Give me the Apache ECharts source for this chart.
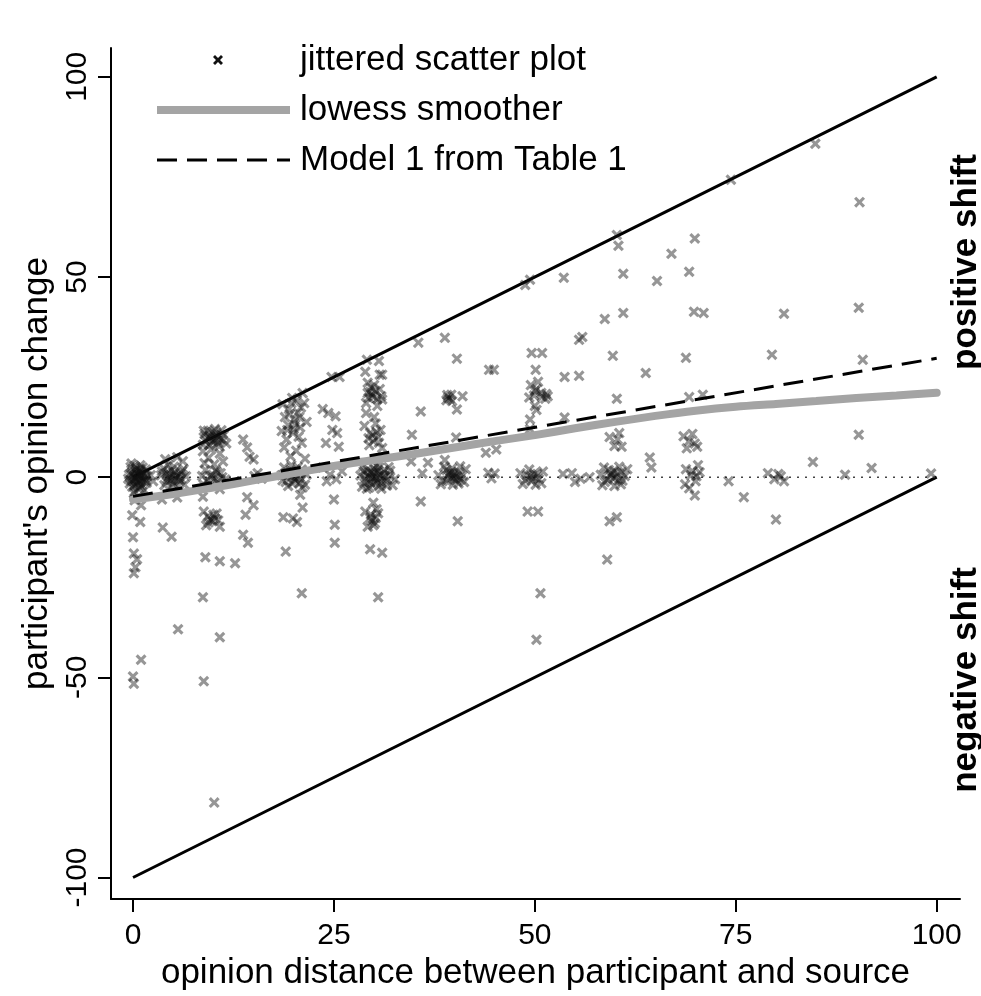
<!DOCTYPE html>
<html>
<head>
<meta charset="utf-8">
<script src="https://cdn.jsdelivr.net/npm/echarts@6/dist/echarts.min.js"></script>
<style>html,body{margin:0;padding:0;background:#fff;}#chart{width:981px;height:996px;}</style>
</head>
<body>
<div id="chart"></div>
<script>
var xTicks = [0, 25, 50, 75, 100];
var yTicks = [-100, -50, 0, 50, 100];

var upperBound = [[0, 0], [100, 100]];
var lowerBound = [[0, -100], [100, 0]];
var zeroLine = [[0, 0], [100, 0]];

var lowessPoints = [[0,-5.6],[5,-4.2],[10,-2.6],[15,-0.8],[20,1],[25,2.8],[30,4.3],[35,5.8],[40,7.4],[45,9],[50,10.5],[55,12.2],[60,13.8],[65,15.3],[70,16.6],[75,17.6],[80,18.3],[85,19],[90,19.8],[95,20.4],[100,21.1]];

var modelPoints = [[0, -4.8], [100, 29.7]];

var scatterPoints = [
[0.1,0.2],[0.3,-0.5],[-0.2,1.1],[0.6,0.4],[0.9,-1.2],[1.2,0.8],[-0.4,-1.6],[0.4,2.1],[1.5,-0.3],[0.8,1.5],[-0.1,-2.4],[1.1,-2.0],[0.2,2.8],[1.6,1.9],[-0.5,0.6],[0.7,-2.9],[1.3,-0.9],[0.0,-1.0],[0.5,0.9],[1.8,0.2],[-0.3,2.5],[0.9,3.0],[1.4,-3.3],[0.2,-3.6],[1.0,0.0],[-0.6,-0.4],[0.6,-1.7],[1.7,-1.4],[0.3,1.6],[1.2,2.4],[0.1,-4.0],[-0.2,3.4],
[0.4,-0.2],[0.8,0.6],[1.1,1.3],[-0.1,0.5],[0.5,-1.3],[1.4,0.5],[0.2,-2.0],[0.9,2.0],[1.6,-0.8],[-0.3,-0.9],[0.7,-0.6],[1.0,-2.6],
[-0.1,-9.5],[0.9,-11.2],[0.0,-15.0],[0.1,-19.1],[0.5,-20.5],[0.3,-22.5],[0.1,-24.0],[0.2,-5.8],[1.0,-7.0],[0.0,-49.8],[0.1,-51.6],[1.0,-45.6],
[3.5,0.5],[4.2,-1.2],[4.8,1.8],[5.3,-0.4],[5.9,0.9],[6.4,-1.9],[3.8,2.2],[4.5,0.1],[5.1,2.6],[5.6,-2.3],[6.1,1.5],[3.9,-2.0],[4.7,-0.8],[5.4,0.3],[6.6,0.2],[4.1,1.0],[5.0,-1.6],[5.8,-0.9],[6.3,2.0],[4.4,3.0],
[4.6,0.6],[5.2,1.2],[5.7,0.1],[4.3,-0.4],[6.0,-0.5],[5.0,0.4],[4.9,-2.2],[3.6,1.4],
[5.5,5.0],[6.2,4.0],[4.0,4.5],[3.6,-5.6],[5.5,-5.1],[3.7,-12.6],[4.8,-14.9],[5.6,-38.0],[2.2,0.5],[2.5,-1.0],
[8.7,8.1],[9.1,9.5],[9.6,10.2],[10.0,8.8],[10.4,11.0],[10.9,9.6],[11.3,10.5],[9.3,11.6],[10.2,12.0],[11.6,8.4],[8.9,10.8],[10.7,7.7],[9.8,9.1],[11.0,11.7],[9.5,8.0],[10.5,9.9],
[9.4,9.9],[10.1,10.6],[10.6,8.5],[9.9,11.3],[11.2,9.2],[9.0,9.0],[10.3,9.4],[8.8,11.6],
[8.7,6.5],[9.4,4.8],[10.1,3.2],[10.8,5.9],[9.0,1.8],[10.5,1.2],[11.2,3.9],[9.7,6.9],[8.9,3.5],
[8.6,0.3],[9.2,-0.8],[9.9,0.6],[10.6,-1.5],[11.1,0.0],[9.5,-2.1],[10.3,1.7],[11.5,-0.6],[8.8,-1.9],[10.0,-0.3],[9.6,0.2],[10.4,-0.9],[10.9,1.0],
[8.7,-4.9],[10.8,-3.0],[8.8,-8.6],[9.3,-9.8],[9.9,-11.0],[10.4,-9.1],[10.8,-12.4],[9.1,-12.0],[10.2,-10.3],[9.6,-10.6],[10.0,-9.4],[9.4,-11.3],[10.6,-10.8],
[9.0,-20.0],[10.8,-21.0],[12.7,-21.5],[8.7,-30.0],[10.8,-40.0],[8.8,-51.0],[10.1,-81.3],
[13.7,9.4],[14.5,5.1],[14.2,7.4],[15.0,4.4],[15.1,0.3],[16.0,-0.4],[15.5,1.0],[14.2,-5.0],[15.0,-7.0],[14.0,-9.4],[13.7,-14.4],[14.3,-16.4],
[19.8,19.8],[21.1,21.0],[18.6,18.2],[19.4,17.0],[20.5,16.1],[21.3,18.5],[18.9,15.0],[20.1,14.2],[19.3,13.0],[20.8,12.4],[21.6,13.8],[18.5,11.5],[19.9,11.0],[20.6,10.1],[19.1,9.4],[21.0,8.6],[18.8,7.4],[20.3,6.6],[19.6,5.2],[21.4,4.6],[20.0,12.0],[19.5,15.8],[20.9,17.4],
[19.7,18.5],[20.4,19.2],[20.2,13.2],[19.2,11.8],[20.7,15.0],
[18.5,0.5],[19.0,-1.2],[19.6,1.8],[20.2,-0.4],[20.8,0.9],[21.4,-1.9],[18.8,2.4],[19.9,0.1],[20.5,2.5],[21.1,-2.6],[19.3,-2.2],[20.1,-1.0],[21.6,0.6],[18.6,-0.8],[20.7,-1.6],[19.7,3.0],
[19.4,0.6],[20.4,0.3],[19.8,-1.5],[20.9,-0.4],[19.2,1.2],[21.0,1.9],
[20.8,-4.4],[21.1,-7.6],[18.7,-10.0],[19.9,-10.3],[20.4,-11.2],[19.0,-18.6],[21.0,-29.0],
[24.7,25.0],[25.7,25.0],[24.3,16.0],[25.4,11.0],[24.8,11.8],[23.6,17.0],[25.2,15.2],[24.0,8.5],[25.6,7.6],[23.6,2.4],[24.5,0.6],[25.3,-0.5],[26.0,1.5],[24.1,-1.0],[25.0,-5.6],[25.1,-11.9],[25.1,-16.4],
[28.9,26.3],[30.7,25.6],[29.2,23.6],[29.1,29.3],[30.6,29.0],[29.7,20.6],[30.2,21.5],[29.3,19.8],[30.9,20.2],[29.0,18.5],[30.4,17.8],[29.6,22.4],[31.0,25.6],[31.0,19.4],[29.0,16.0],[30.0,15.0],[29.5,11.0],[30.5,10.0],[29.9,9.0],[30.8,11.8],[28.8,12.8],[30.2,13.4],[29.4,8.0],[31.0,7.3],
[29.9,20.0],[30.4,19.5],[29.5,21.3],[30.0,23.0],[30.7,22.0],[29.2,21.0],[29.8,10.5],[30.3,11.3],[29.3,9.7],[30.6,8.6],
[28.3,0.4],[28.8,-1.5],[29.2,1.9],[29.7,-0.3],[30.1,1.1],[30.6,-2.2],[31.0,0.6],[31.5,-1.0],[32.0,1.6],[32.6,-0.5],[28.6,2.6],[29.4,-2.6],[30.3,2.9],[30.9,-2.9],[31.8,2.5],[29.9,0.0],[30.4,-1.2],[29.0,0.8],[31.3,1.8],[32.3,-2.0],[28.5,-2.4],[30.0,2.2],[31.1,-0.2],[29.6,1.3],
[29.3,0.2],[29.8,1.0],[30.2,-0.6],[30.7,0.5],[30.5,1.6],[29.5,-1.3],[30.9,-1.5],[31.4,0.2],[28.9,-0.5],[29.8,-2.0],[30.2,0.0],[31.6,-2.1],[28.7,1.5],[30.6,2.4],[29.1,-2.9],[31.9,0.4],
[29.9,-6.4],[28.9,-8.6],[29.5,-10.2],[30.1,-11.5],[30.5,-9.0],[29.2,-12.4],[30.3,-8.0],[29.7,-10.9],[29.6,-9.4],[30.2,-10.2],[29.9,-12.0],[29.5,-18.0],[31.0,-18.9],[30.5,-30.0],
[35.5,33.6],[35.8,16.4],[34.7,10.6],[34.6,3.9],[36.7,3.6],[36.0,0.9],[35.8,-6.1],
[38.8,34.8],[40.3,29.6],[39.2,19.9],[39.6,20.6],[39.0,19.2],[41.0,20.2],[40.3,16.9],[40.2,9.9],[38.8,4.3],[39.4,19.6],[39.1,20.5],[39.7,19.0],
[38.0,0.5],[38.5,-1.0],[39.0,1.8],[39.5,-0.2],[40.0,1.0],[40.5,-1.6],[41.0,0.4],[41.4,2.0],[38.7,2.6],[39.8,-1.9],[40.7,2.7],[39.3,0.9],[40.2,-0.8],[38.3,-1.8],[41.2,-1.2],[39.9,0.3],
[39.2,0.4],[39.6,1.3],[40.3,0.2],[40.8,-0.6],[39.0,-0.9],[40.0,-0.3],[39.7,2.2],[40.5,1.2],
[40.4,-11.0],
[44.3,26.8],[44.9,26.8],[43.9,6.1],[45.2,6.9],[44.2,1.1],[45.0,0.9],[44.6,-0.3],
[49.6,31.0],[50.9,31.0],[50.1,26.8],[48.8,48.0],[49.4,49.3],[49.5,23.0],[50.2,22.0],[50.8,21.0],[49.9,20.4],[51.6,20.2],[51.4,20.8],[50.4,23.8],[49.3,19.9],[50.2,16.8],[49.4,14.4],[49.4,12.0],[50.0,17.8],[50.9,20.1],[51.3,19.6],[50.0,21.5],
[48.2,1.0],[48.8,-0.8],[49.3,1.9],[49.8,-0.2],[50.3,0.8],[50.8,-1.5],[49.5,0.2],[50.1,-1.9],[48.5,-1.7],[51.0,1.4],[49.0,0.4],[49.9,0.9],[50.5,-0.5],[49.6,-1.0],
[49.1,-8.6],[50.4,-8.6],[50.7,-29.0],[50.2,-40.6],
[53.6,49.8],[55.5,34.3],[55.9,35.0],[53.7,25.0],[55.5,25.3],[53.7,14.9],[53.5,0.8],[54.6,1.0],[55.7,-0.4],[56.8,0.0],[55.0,-1.2],
[60.2,60.5],[60.4,57.8],[61.0,50.8],[58.7,39.5],[61.0,41.0],[59.7,30.3],[60.2,19.6],[59.3,10.0],[60.3,9.4],[60.8,7.6],[59.9,7.8],[60.5,11.0],
[58.2,0.6],[58.7,-1.2],[59.2,1.8],[59.7,-0.3],[60.2,1.0],[60.7,-1.8],[61.2,0.3],[61.5,2.0],[58.6,2.4],[59.9,-2.2],[60.5,2.6],[59.4,0.4],[60.9,-0.9],[58.4,-2.0],
[59.5,0.9],[60.0,0.0],[60.4,-0.8],[59.0,-0.6],[60.8,1.2],[59.8,1.6],
[59.3,-11.0],[60.2,-10.0],[59.0,-20.6],
[63.8,26.0],[65.2,49.0],[67.0,55.8],[64.3,4.9],[64.5,2.4],
[69.9,59.6],[69.2,51.3],[69.8,41.3],[71.0,41.0],[68.8,29.8],[69.2,20.0],[70.9,20.6],[68.5,10.2],[69.2,9.0],[69.9,8.4],[69.6,10.8],[70.2,7.6],[68.9,7.2],
[68.8,2.0],[69.4,0.5],[70.0,-1.0],[70.5,1.2],[69.2,-2.8],[69.9,-4.6],[70.3,3.0],[68.7,-1.8],[69.6,1.5],[70.1,0.2],
[74.4,74.3],[74.1,-1.0],[76.0,-5.0],
[81.0,40.8],[79.5,30.6],[79.0,1.0],[79.8,-0.5],[80.3,0.8],[81.0,-1.0],[80.6,0.2],[80.0,-10.6],
[84.9,83.3],[84.6,3.8],[88.6,0.6],
[90.4,68.7],[90.3,42.3],[90.8,29.3],[90.3,10.6],[91.9,2.3],
[99.3,0.9]
];

var FONT = '"Liberation Sans", Arial, Helvetica, sans-serif';
var crossPath = 'path://M2,0 L5,3 L8,0 L10,2 L7,5 L10,8 L8,10 L5,7 L2,10 L0,8 L3,5 L0,2 Z';
var dashIcon = 'path://M0,0 H20 V3 H0 Z M30,0 H50 V3 H30 Z M60,0 H80 V3 H60 Z M90,0 H110 V3 H90 Z M120,0 H133 V3 H120 Z';
var barIcon = 'path://M0,0 H133 V8 H0 Z';

var chart = echarts.init(document.getElementById('chart'), null, {renderer: 'canvas'});

var legendText = {fontSize: 35, color: '#000', fontFamily: FONT, lineHeight: 40};

var option = {
  animation: false,
  backgroundColor: '#fff',
  textStyle: {fontFamily: FONT, color: '#000'},
  grid: {left: 111, right: 21, top: 48, bottom: 96, containLabel: false},
  legend: [
    {
      data: [{name: 'jittered scatter plot', icon: crossPath, itemStyle: {color: '#111', opacity: 1}}],
      left: 208, top: 35, itemWidth: 10, itemHeight: 10, selectedMode: false,
      textStyle: Object.assign({padding: [0, 0, 0, 72]}, legendText)
    },
    {
      data: [{name: 'lowess smoother', icon: barIcon, itemStyle: {color: '#a4a4a4', opacity: 1}}],
      left: 152, top: 85, itemWidth: 133, itemHeight: 8, selectedMode: false,
      textStyle: Object.assign({padding: [0, 0, 0, 5]}, legendText)
    },
    {
      data: [{name: 'Model 1 from Table 1', icon: dashIcon, itemStyle: {color: '#000', opacity: 1}}],
      left: 152, top: 135, itemWidth: 133, itemHeight: 3, selectedMode: false,
      textStyle: Object.assign({padding: [0, 0, 0, 5]}, legendText)
    }
  ],
  xAxis: {
    type: 'value', min: -2.74, max: 102.9,
    name: 'opinion distance between participant and source',
    nameLocation: 'middle', nameGap: 52,
    nameTextStyle: {fontSize: 35, color: '#000', fontFamily: FONT},
    axisLine: {onZero: false, lineStyle: {color: '#000', width: 2}},
    axisTick: {customValues: xTicks, length: 13, lineStyle: {color: '#000', width: 2}},
    axisLabel: {customValues: xTicks, fontSize: 30, margin: 22, color: '#000', fontFamily: FONT},
    splitLine: {show: false}
  },
  yAxis: {
    type: 'value', min: -105.4, max: 107.2,
    name: "participant's opinion change",
    nameLocation: 'middle', nameGap: 43,
    nameTextStyle: {fontSize: 35, color: '#000', fontFamily: FONT},
    axisLine: {onZero: false, lineStyle: {color: '#000', width: 2}},
    axisTick: {customValues: yTicks, length: 13, lineStyle: {color: '#000', width: 2}},
    axisLabel: {customValues: yTicks, rotate: 90, fontSize: 30, margin: 18, color: '#000', fontFamily: FONT},
    splitLine: {show: false}
  },
  graphic: [
    {type: 'text', x: 966, y: 262, rotation: Math.PI / 2,
     style: {text: 'positive shift', font: 'bold 35px ' + FONT, fill: '#000', align: 'center', verticalAlign: 'middle'}},
    {type: 'text', x: 966, y: 680, rotation: Math.PI / 2,
     style: {text: 'negative shift', font: 'bold 35px ' + FONT, fill: '#000', align: 'center', verticalAlign: 'middle'}}
  ],
  series: [
    {type: 'line', data: upperBound, symbol: 'none', silent: true, z: 2,
     lineStyle: {color: '#000', width: 3}},
    {type: 'line', data: lowerBound, symbol: 'none', silent: true, z: 2,
     lineStyle: {color: '#000', width: 3}},
    {type: 'line', data: zeroLine, symbol: 'none', silent: true, z: 2,
     lineStyle: {color: '#444', width: 1.5, type: [2, 6]}},
    {name: 'jittered scatter plot', type: 'scatter', data: scatterPoints, symbol: crossPath, symbolSize: 11, z: 3,
     itemStyle: {color: 'rgba(15,15,15,0.55)'}},
    {name: 'lowess smoother', type: 'line', data: lowessPoints, symbol: 'none', smooth: 0.3, z: 4,
     itemStyle: {color: '#a4a4a4'},
     lineStyle: {color: '#a4a4a4', width: 8, cap: 'round'}},
    {name: 'Model 1 from Table 1', type: 'line', data: modelPoints, symbol: 'none', z: 5,
     itemStyle: {color: '#000'},
     lineStyle: {color: '#000', width: 3, type: [20, 10]}}
  ]
};
chart.setOption(option);
</script>
</body>
</html>
